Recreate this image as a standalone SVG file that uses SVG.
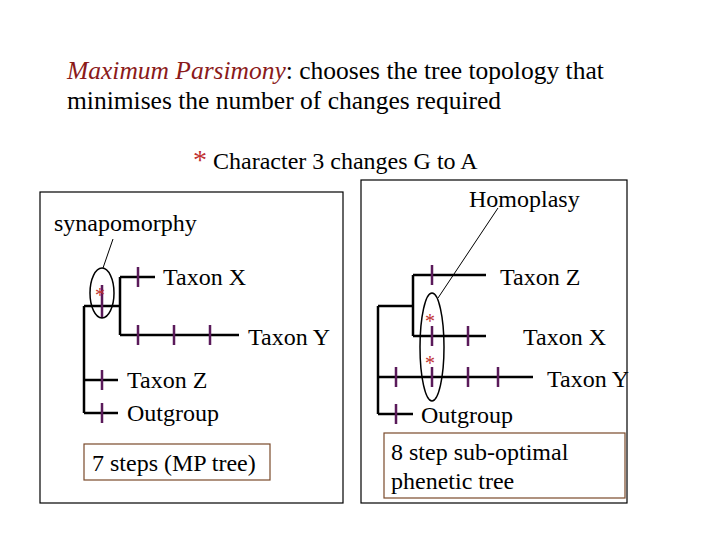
<svg xmlns="http://www.w3.org/2000/svg" width="720" height="540" viewBox="0 0 720 540" font-family="'Liberation Serif', 'Times New Roman', serif">
<style>
text{font-family:'Liberation Serif','Times New Roman',serif;fill:#000}
.t{font-size:25.5px}.l{font-size:24px}
.b{stroke:#000;stroke-width:2.5;fill:none}
.k{stroke:#5a1a5a;stroke-width:2.5}
.s{fill:#c03030}
.frame{fill:#fff;stroke:#000;stroke-width:1.2}
.lab{fill:#fff;stroke:#7a4a2a;stroke-width:1.2}
.e{fill:none;stroke:#000;stroke-width:1.5}
.ld{stroke:#000;stroke-width:1}
</style>
<rect width="720" height="540" fill="#fff"/>
<g id="title">
<text class="t" x="67" y="79"><tspan font-style="italic" fill="#8b1a1a">Maximum Parsimony</tspan>: chooses the tree topology that</text>
<text class="t" x="67" y="109">minimises the number of changes required</text>
<text class="l" x="193" y="169"><tspan class="s" font-size="28">*</tspan> Character 3 changes G to A</text>
</g>
<g id="leftPanel">
<rect class="frame" x="40" y="192" width="303" height="311"/>
<text class="l" x="54" y="231">synapomorphy</text>
<text class="l" x="163" y="285">Taxon X</text>
<text class="l" x="248" y="345">Taxon Y</text>
<text class="l" x="127" y="388">Taxon Z</text>
<text class="l" x="127" y="421">Outgroup</text>
<rect class="lab" x="84" y="444" width="186" height="36"/>
<text class="l" x="92" y="471">7 steps (MP tree)</text>
</g>
<g id="rightPanel">
<rect class="frame" x="361" y="180" width="266" height="323"/>
<text class="l" x="469" y="207">Homoplasy</text>
<text class="l" x="500" y="285">Taxon Z</text>
<text class="l" x="523" y="345">Taxon X</text>
<text class="l" x="547" y="387">Taxon Y</text>
<text class="l" x="421" y="423">Outgroup</text>
<rect class="lab" x="384" y="433" width="241" height="65"/>
<text class="l" x="391" y="460">8 step sub-optimal</text>
<text class="l" x="391" y="489">phenetic tree</text>
</g>
<g id="connectors">
<path class="b" d="M84 306V413M84 306H120M120 277V335M120 277H155M120 335H239M84 380H118M84 413H118"/>
<path class="k" d="M138 267V287M138 325V345M174 325V345M210 325V345M102 285V318M102 370V390M102 403V423"/>
<ellipse class="e" cx="102" cy="293" rx="12" ry="25"/>
<line class="ld" x1="113" y1="239" x2="103" y2="268"/>
<text class="s" x="95" y="302" font-size="20">*</text>
<path class="b" d="M378 306V414M378 306H413M413 275V336M413 275H486M413 336H486M378 377H533M378 414H413"/>
<path class="k" d="M432 265V285M432 326V346M468 326V346M396 367V387M432 367V387M468 367V387M498 367V387M396 404V424"/>
<ellipse class="e" cx="432" cy="347" rx="12" ry="54"/>
<line class="ld" x1="498" y1="208" x2="438" y2="298"/>
<text class="s" x="425" y="328" font-size="20">*</text>
<text class="s" x="425" y="370" font-size="20">*</text>
</g>
</svg>
